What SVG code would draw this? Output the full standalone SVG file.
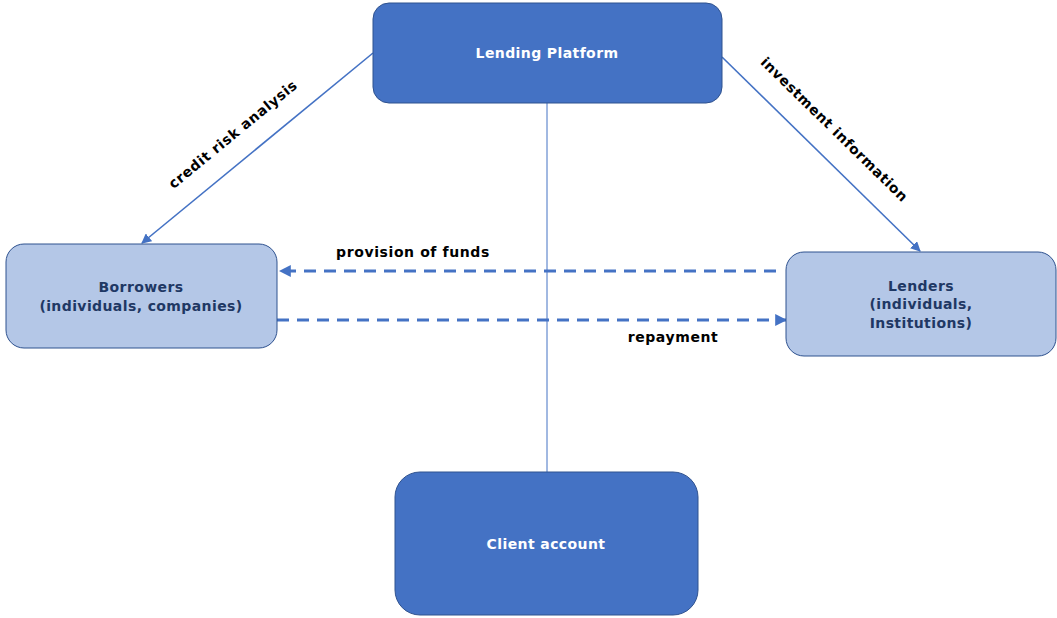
<svg xmlns="http://www.w3.org/2000/svg" width="1057" height="618" viewBox="0 0 1057 618">
<style>
.dark{fill:#4472c4;stroke:#2f528f;stroke-width:1}
.light{fill:#b4c7e7;stroke:#2f528f;stroke-width:1}
text{font-family:"DejaVu Sans",Verdana,sans-serif;font-weight:bold;font-size:14px;text-anchor:middle;letter-spacing:0.4px}
.wt{fill:#ffffff}
.nt{fill:#1f3864}
.lb{fill:#000000;font-size:14px;letter-spacing:0.6px}
.ln{stroke:#4472c4;stroke-width:1.6;fill:none}
.ds{stroke:#4472c4;stroke-width:3;fill:none;stroke-dasharray:12 8}
</style>
<defs>
<marker id="ah" viewBox="0 0 10 10" refX="9" refY="5" markerWidth="10" markerHeight="10" markerUnits="userSpaceOnUse" orient="auto">
<path d="M0,0 L10,5 L0,10 z" fill="#4472c4"/>
</marker>
<marker id="ah2" viewBox="0 0 10 10" refX="9" refY="5" markerWidth="4" markerHeight="4" orient="auto">
<path d="M0,0 L10,5 L0,10 z" fill="#4472c4"/>
</marker>
</defs>
<g id="connectors">
<line class="ln" x1="547" y1="103" x2="547" y2="472" style="stroke-width:1"/>
<line class="ln" x1="373" y1="53" x2="142" y2="243" marker-end="url(#ah)"/>
<line class="ln" x1="722" y1="57" x2="920" y2="251" marker-end="url(#ah)"/>
<line class="ds" x1="776" y1="271" x2="280" y2="271" marker-end="url(#ah2)"/>
<line class="ds" x1="277" y1="320" x2="786" y2="320" marker-end="url(#ah2)"/>
<text class="lb" x="413" y="257">provision of funds</text>
<text class="lb" x="673" y="342">repayment</text>
<text class="lb" transform="translate(236,138) rotate(-39.4)">credit risk analysis</text>
<text class="lb" transform="translate(831,133) rotate(44.4)">investment information</text>
</g>
<g id="lending-platform">
<rect class="dark" x="373" y="3" width="349" height="100" rx="16"/>
<text class="wt" x="547" y="58">Lending Platform</text>
</g>
<g id="borrowers">
<rect class="light" x="6" y="244" width="271" height="104" rx="18"/>
<text class="nt" x="141" y="292">Borrowers</text>
<text class="nt" x="141" y="311">(individuals, companies)</text>
</g>
<g id="lenders">
<rect class="light" x="786" y="252" width="270" height="104" rx="18"/>
<text class="nt" x="921" y="291">Lenders</text>
<text class="nt" x="921" y="309">(individuals,</text>
<text class="nt" x="921" y="328">Institutions)</text>
</g>
<g id="client-account">
<rect class="dark" x="395" y="472" width="303" height="143" rx="25"/>
<text class="wt" x="546" y="549">Client account</text>
</g>
</svg>
